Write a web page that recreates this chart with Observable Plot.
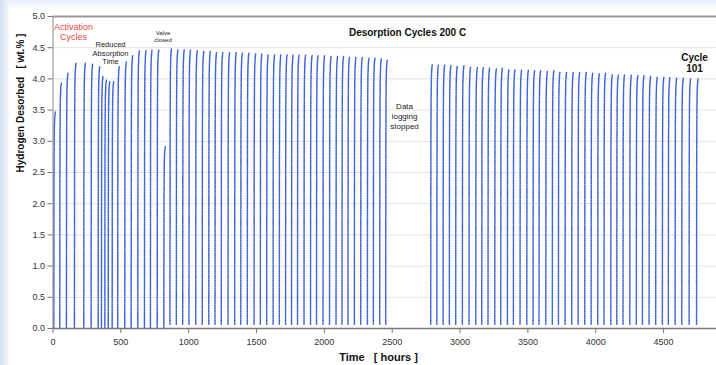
<!DOCTYPE html>
<html>
<head>
<meta charset="utf-8">
<script src="https://cdn.jsdelivr.net/npm/d3@7"></script>
<script src="https://cdn.jsdelivr.net/npm/@observablehq/plot@0.6"></script>
<style>
  html, body { margin: 0; padding: 0; }
  body {
    width: 716px; height: 365px; overflow: hidden;
    background:
      linear-gradient(to right, #d3e0f2 0px, #e6eef9 6px, rgba(255,255,255,0) 10px),
      linear-gradient(to bottom, #e6eef8 0px, rgba(255,255,255,0) 9px),
      #ffffff;
    font-family: "Liberation Sans", Arial, sans-serif;
  }
  #chart { position: absolute; left: 0; top: 0; }
</style>
</head>
<body>
<div id="chart"></div>
<script>
// Start time (hours) of each desorption cycle and the hydrogen released at its end (wt.%)
const activationStart = [6, 50, 99, 158, 227, 281, 333, 357, 382, 407, 436, 477, 529, 576, 625, 674, 718, 768, 817];
const activationPeak  = [3.47, 3.93, 4.09, 4.25, 4.25, 4.24, 4.20, 4.04, 3.98, 3.96, 3.96, 4.20, 4.27, 4.37, 4.45, 4.45, 4.46, 4.46, 2.92];

const firstRunStart = [862, 909, 956, 1002, 1052, 1100, 1148, 1194, 1240, 1290, 1339, 1384, 1432, 1482, 1528, 1575, 1622, 1668,
                       1714, 1758, 1802, 1850, 1898, 1942, 1990, 2038, 2086, 2130, 2174, 2221, 2268, 2317, 2361, 2408, 2452];
const firstRunPeak  = [4.48, 4.47, 4.47, 4.46, 4.45, 4.44, 4.44, 4.43, 4.42, 4.42, 4.42, 4.41, 4.41, 4.40, 4.40, 4.39, 4.39, 4.39,
                       4.39, 4.38, 4.38, 4.38, 4.37, 4.37, 4.37, 4.36, 4.36, 4.36, 4.35, 4.35, 4.34, 4.33, 4.33, 4.32, 4.30];

const secondRunStart = [2784, 2829, 2875, 2921, 2968, 3017, 3066, 3116, 3160, 3206, 3256, 3300, 3349, 3393, 3442, 3492, 3538, 3582,
                        3632, 3680, 3725, 3774, 3823, 3870, 3919, 3966, 4015, 4061, 4111, 4155, 4201, 4251, 4299, 4344, 4393,
                        4442, 4491, 4535, 4585, 4634, 4688, 4743];
const secondRunPeak  = [4.23, 4.22, 4.22, 4.21, 4.20, 4.21, 4.19, 4.18, 4.18, 4.17, 4.16, 4.17, 4.15, 4.15, 4.14, 4.14, 4.13, 4.13,
                        4.12, 4.13, 4.11, 4.11, 4.10, 4.10, 4.11, 4.09, 4.08, 4.09, 4.07, 4.06, 4.07, 4.06, 4.05, 4.05, 4.04,
                        4.03, 4.03, 4.02, 4.01, 4.01, 4.00, 4.00];

// Hydrogen left in the sample when a desorption begins (wt.%), per phase
const activationResidual = 0;
const runResidual = 0.07;

// Shape of one desorption curve: hours after start vs. fraction of the final amount
const riseHours    = [0, 1, 2, 3, 4.5, 6.5, 9, 11.5];
const riseFraction = [0, 0.6, 0.8, 0.89, 0.94, 0.97, 0.99, 1.0];

const xTicks = [0, 500, 1000, 1500, 2000, 2500, 3000, 3500, 4000, 4500];
const yTicks = [0, 0.5, 1, 1.5, 2, 2.5, 3, 3.5, 4, 4.5, 5];

const notes = [
  {x: 151,  y: 4.76, text: "Activation\nCycles",            fill: "#e8453f", size: 9,   weight: "normal", lh: 1.15},
  {x: 424,  y: 4.415, text: "Reduced\nAbsorption\nTime",    fill: "#222",    size: 7.5, weight: "normal", lh: 1.13},
  {x: 811,  y: 4.69, text: "Valve\nclosed",                 fill: "#222",    size: 6,   weight: "normal", lh: 1.25},
  {x: 2613, y: 4.74, text: "Desorption Cycles 200 C",       fill: "#111",    size: 10,  weight: "bold",   lh: 1},
  {x: 2591, y: 3.41, text: "Data\nlogging\nstopped",        fill: "#222",    size: 8,   weight: "normal", lh: 1.25},
  {x: 4728, y: 4.25, text: "Cycle\n101",                    fill: "#111",    size: 10,  weight: "bold",   lh: 1.05}
];

const starts = [...activationStart, ...firstRunStart, ...secondRunStart];
const peaks  = [...activationPeak,  ...firstRunPeak,  ...secondRunPeak];
const residual = starts.map((t, i) => (i < activationStart.length ? activationResidual : runResidual));

const points = starts.flatMap((t0, i) =>
  riseHours.map((h, k) => ({
    cycle: i,
    t: t0 + h,
    w: residual[i] + (peaks[i] - residual[i]) * riseFraction[k]
  }))
);

const textMarks = notes.map(n => Plot.text([n], {
  x: "x", y: "y", text: "text", fill: n.fill, fontSize: n.size, fontWeight: n.weight,
  lineHeight: n.lh, textAnchor: "middle"
}));

const chart = Plot.plot({
  width: 716,
  height: 365,
  marginLeft: 52.5,
  marginRight: 0,
  marginTop: 16,
  marginBottom: 37,
  style: {background: "transparent", fontFamily: "Liberation Sans, Arial, sans-serif", color: "#333"},
  x: {domain: [0, 4890]},
  y: {domain: [0, 5]},
  marks: [
    Plot.ruleY(yTicks.filter(d => d > 0 && d < 5), {stroke: "#e4e4e4", strokeWidth: 1}),
    Plot.line(points, {
      x: "t", y: "w", z: "cycle", curve: "monotone-x",
      stroke: "#3d64d8", strokeWidth: 1.5, strokeDasharray: "1.6,0.9"
    }),
    Plot.ruleY([5], {stroke: "#9a9a9a", strokeWidth: 2}),
    Plot.ruleX([0], {stroke: "#8a8a8a", strokeWidth: 1}),
    Plot.ruleY([0], {stroke: "#777", strokeWidth: 1.5}),
    Plot.axisY(yTicks, {
      tickSize: 5, tickPadding: 3, fontSize: 9, stroke: "#777",
      tickFormat: d3.format(".1f"), label: null
    }),
    Plot.axisX(xTicks, {
      tickSize: 5, tickPadding: 5, fontSize: 9, stroke: "#777",
      tickFormat: d => String(d), label: null
    }),
    Plot.text(["Time   [ hours ]"], {
      frameAnchor: "bottom", dx: 378 - (52.5 + 716) / 2, dy: 32,
      fontSize: 11, fontWeight: "bold", fill: "#111"
    }),
    Plot.text(["Hydrogen Desorbed   [ wt.% ]"], {
      frameAnchor: "left", dx: -32.5, dy: 172 - (16 + 328) / 2, rotate: -90,
      fontSize: 10, fontWeight: "bold", fill: "#111"
    }),
    ...textMarks
  ]
});

document.getElementById("chart").appendChild(chart);
</script>
</body>
</html>
